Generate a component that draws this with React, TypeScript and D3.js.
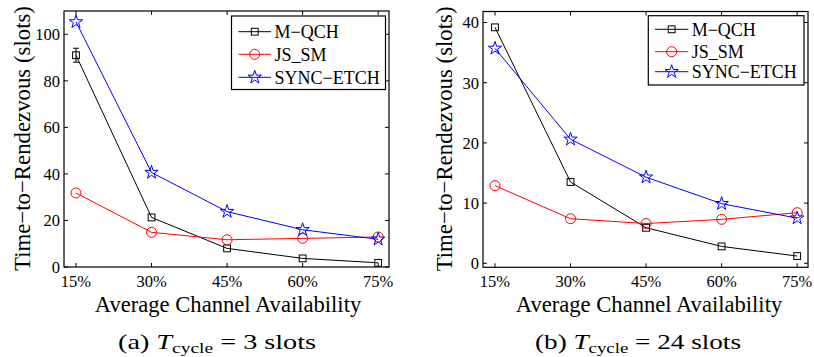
import React from "react";
import * as d3 from "d3";

const categories = [15, 30, 45, 60, 75];
const xTickLabels = ["15%", "30%", "45%", "60%", "75%"];
const seriesNames = ["M\u2212QCH", "JS_SM", "SYNC\u2212ETCH"];
const seriesColors = ["#000000", "#ff0000", "#0000ff"];
const seriesMarkers = ["square", "circle", "star"];

// Panel (a): T_cycle = 3 slots
const aMQCH = [91, 21.3, 8.0, 3.7, 1.8];
const aMQCHErrLow = [88, null, null, null, null];
const aMQCHErrHigh = [94, null, null, null, null];
const aJSSM = [31.8, 14.9, 11.7, 12.3, 12.9];
const aSYNC = [105.3, 40.6, 23.8, 16.0, 11.9];
const aYTicks = [0, 20, 40, 60, 80, 100];

// Panel (b): T_cycle = 24 slots
const bMQCH = [39.2, 13.5, 5.9, 2.8, 1.2];
const bJSSM = [12.9, 7.4, 6.6, 7.3, 8.4];
const bSYNC = [35.7, 20.6, 14.3, 9.9, 7.5];
const bYTicks = [0, 10, 20, 30, 40];

const SERIF = "Liberation Serif";

type PanelCfg = {
  x0: number; x1: number; y0: number; y1: number;
  yDomain: [number, number];
  yTicks: number[];
  series: number[][];
  errLow?: (number | null)[];
  errHigh?: (number | null)[];
  legend: { x: number; y: number; w: number; h: number; rows: number[]; lx0: number; lx1: number; tx: number };
  yLabelX: number;
  xLabelCx: number;
  caption: { cx: number; len: number; pre: string; post: string };
};

const panels: PanelCfg[] = [
  {
    x0: 64, x1: 389, y0: 11, y1: 267,
    yDomain: [0, 110],
    yTicks: aYTicks,
    series: [aMQCH, aJSSM, aSYNC],
    errLow: aMQCHErrLow, errHigh: aMQCHErrHigh,
    legend: { x: 231.5, y: 16, w: 154, h: 73.5, rows: [31.7, 54.3, 77.3], lx0: 238.5, lx1: 271, tx: 274.5 },
    yLabelX: 30,
    xLabelCx: 228,
    caption: { cx: 217, len: 198, pre: "(a) ", post: " = 3 slots" },
  },
  {
    x0: 483, x1: 808, y0: 11.5, y1: 267.3,
    yDomain: [-0.67, 41.83],
    yTicks: bYTicks,
    series: [bMQCH, bJSSM, bSYNC],
    legend: { x: 648.3, y: 15.7, w: 155.7, h: 69.3, rows: [29.3, 51.7, 71.7], lx0: 655, lx1: 688.3, tx: 691.7 },
    yLabelX: 451.5,
    xLabelCx: 649,
    caption: { cx: 638, len: 206, pre: "(b) ", post: " = 24 slots" },
  },
];

function Marker({ kind, x, y, color }: { kind: string; x: number; y: number; color: string }) {
  if (kind === "square") {
    return <rect x={x - 3.4} y={y - 3.4} width={6.8} height={6.8} fill="none" stroke={color} strokeWidth={1} />;
  }
  if (kind === "circle") {
    return <circle cx={x} cy={y} r={5} fill="none" stroke={color} strokeWidth={1} />;
  }
  const star = d3.symbol(d3.symbolStar, 55)();
  return <path d={star || ""} transform={`translate(${x},${y})`} fill="none" stroke={color} strokeWidth={1} />;
}

function Panel({ cfg }: { cfg: PanelCfg }) {
  const x = d3.scaleLinear().domain([12.62, 77.15]).range([cfg.x0, cfg.x1]);
  const y = d3.scaleLinear().domain(cfg.yDomain).range([cfg.y1, cfg.y0]);
  const line = d3.line<number>().x((_, i) => x(categories[i])).y((d) => y(d));
  const tl = 4;
  const L = cfg.legend;
  return (
    <g>
      <rect x={cfg.x0} y={cfg.y0} width={cfg.x1 - cfg.x0} height={cfg.y1 - cfg.y0} fill="none" stroke="#000" strokeWidth={1.2} />
      {categories.map((c, i) => (
        <g key={"xt" + i}>
          <line x1={x(c)} x2={x(c)} y1={cfg.y1} y2={cfg.y1 - tl} stroke="#000" />
          <line x1={x(c)} x2={x(c)} y1={cfg.y0} y2={cfg.y0 + tl} stroke="#000" />
          <text x={x(c)} y={287} textAnchor="middle" fontFamily={SERIF} fontSize={16.5} fill="#000">
            {xTickLabels[i]}
          </text>
        </g>
      ))}
      {cfg.yTicks.map((t) => (
        <g key={"yt" + t}>
          <line x1={cfg.x0} x2={cfg.x0 + tl} y1={y(t)} y2={y(t)} stroke="#000" />
          <line x1={cfg.x1} x2={cfg.x1 - tl} y1={y(t)} y2={y(t)} stroke="#000" />
          <text x={cfg.x0 - 4} y={y(t) + 5.8} textAnchor="end" fontFamily={SERIF} fontSize={16.5} fill="#000">
            {t}
          </text>
        </g>
      ))}
      {cfg.series.map((s, si) => (
        <g key={"s" + si}>
          <path d={line(s) || ""} fill="none" stroke={seriesColors[si]} strokeWidth={1} />
          {s.map((v, i) => (
            <Marker key={i} kind={seriesMarkers[si]} x={x(categories[i])} y={y(v)} color={seriesColors[si]} />
          ))}
        </g>
      ))}
      {cfg.errLow &&
        cfg.errLow.map((lo, i) => {
          const hi = cfg.errHigh ? cfg.errHigh[i] : null;
          if (lo == null || hi == null) return null;
          const cx = x(categories[i]);
          return (
            <g key={"e" + i} stroke="#000" strokeWidth={1}>
              <line x1={cx} x2={cx} y1={y(lo)} y2={y(hi)} />
              <line x1={cx - 3} x2={cx + 3} y1={y(lo)} y2={y(lo)} />
              <line x1={cx - 3} x2={cx + 3} y1={y(hi)} y2={y(hi)} />
            </g>
          );
        })}
      <rect x={L.x} y={L.y} width={L.w} height={L.h} fill="#fff" stroke="#000" strokeWidth={1.2} />
      {seriesNames.map((n, si) => (
        <g key={"l" + si}>
          <line x1={L.lx0} x2={L.lx1} y1={L.rows[si]} y2={L.rows[si]} stroke={seriesColors[si]} strokeWidth={1} />
          <Marker kind={seriesMarkers[si]} x={(L.lx0 + L.lx1) / 2} y={L.rows[si]} color={seriesColors[si]} />
          <text x={L.tx} y={L.rows[si] + 6.2} fontFamily={SERIF} fontSize={18} fill="#000">
            {n}
          </text>
        </g>
      ))}
      <text
        transform={`translate(${cfg.yLabelX},${(cfg.y0 + cfg.y1) / 2 - 0.5}) rotate(-90)`}
        textAnchor="middle"
        fontFamily={SERIF}
        fontSize={22.8}
        fill="#000"
      >
        {"Time\u2212to\u2212Rendezvous (slots)"}
      </text>
      <text x={cfg.xLabelCx} y={311.5} textAnchor="middle" fontFamily={SERIF} fontSize={22.6} fill="#000">
        Average Channel Availability
      </text>
      <text
        x={cfg.caption.cx - cfg.caption.len / 2}
        y={348.5}
        fontFamily={SERIF}
        fontSize={21}
        fill="#000"
        textLength={cfg.caption.len}
        lengthAdjust="spacingAndGlyphs"
      >
        {cfg.caption.pre}
        <tspan fontStyle="italic">T</tspan>
        <tspan fontSize={14.5} dy={4}>cycle</tspan>
        <tspan dy={-4}>{cfg.caption.post}</tspan>
      </text>
    </g>
  );
}

export default function App() {
  return (
    <svg
      width={814}
      height={357}
      style={{ position: "absolute", left: 0, top: 0, background: "#fff", display: "block" }}
    >
      <rect width={814} height={357} fill="#fff" />
      {panels.map((p, i) => (
        <Panel key={i} cfg={p} />
      ))}
    </svg>
  );
}
